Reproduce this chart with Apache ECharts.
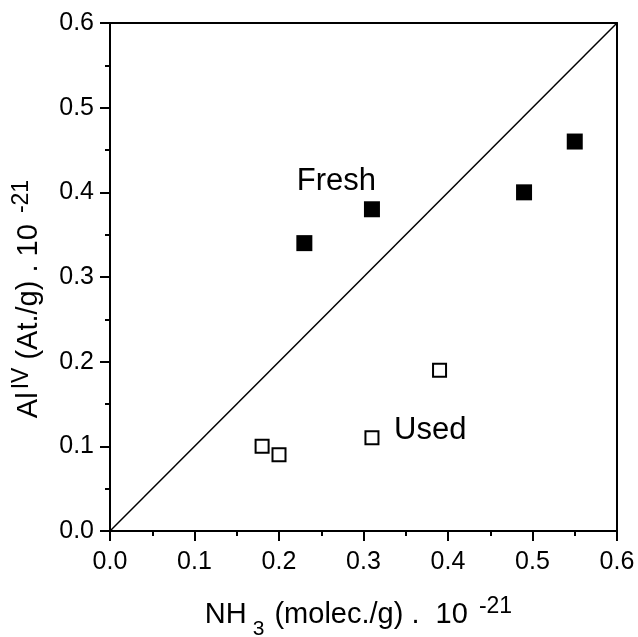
<!DOCTYPE html>
<html>
<head>
<meta charset="utf-8">
<script src="https://cdn.jsdelivr.net/npm/echarts@6/dist/echarts.min.js"></script>
<style>
  html, body { margin: 0; padding: 0; background: #ffffff; }
  #chart { width: 638px; height: 637px; }
</style>
</head>
<body>
<div id="chart"></div>
<script>
// values (NH3 vs Al(IV), both x 10^-21)
var freshX = [0.23, 0.31, 0.49, 0.55]
var freshY = [0.34, 0.38, 0.40, 0.46]
var usedX = [0.18, 0.20, 0.31, 0.39]
var usedY = [0.10, 0.09, 0.11, 0.19]
var diagonalX = [0.0, 0.6]
var diagonalY = [0.0, 0.6]
var noteText = ['Fresh', 'Used']
var noteX = [0.268, 0.379]
var noteY = [0.413, 0.119]

var font = 'Liberation Sans, Arial, sans-serif'

function pairs (xs, ys) {
  var out = []
  for (var i = 0; i < xs.length; i++) {
    out.push([xs[i], ys[i]])
  }
  return out
}

var notes = []
for (var i = 0; i < noteText.length; i++) {
  notes.push({ name: noteText[i], value: [noteX[i], noteY[i]] })
}

var titleRich = {
  m: { fontSize: 29, fontFamily: font, color: '#000' },
  sup: { fontSize: 23, fontFamily: font, color: '#000', padding: [0, 0, 15, 3] },
  sub: { fontSize: 21, fontFamily: font, color: '#000', padding: [30, 2, 0, 6] }
}

var chart = echarts.init(document.getElementById('chart'))
chart.setOption({
  animation: false,
  backgroundColor: '#ffffff',
  grid: { left: 110, top: 23, right: 21, bottom: 106, outerBoundsMode: 'none' },
  xAxis: [{
    type: 'value',
    min: 0,
    max: 0.6,
    interval: 0.1,
    name: '{m|NH}{sub|3}{m| (molec./g) .  10 }{sup|-21}',
    nameLocation: 'middle',
    nameGap: 58,
    nameTextStyle: { rich: titleRich, padding: [0, 10, 0, 0] },
    axisLine: { show: true, onZero: false, lineStyle: { color: '#000', width: 2 } },
    axisTick: { show: true, inside: false, length: 10, lineStyle: { color: '#000', width: 2 } },
    minorTick: { show: true, splitNumber: 2, length: 5, lineStyle: { color: '#000', width: 2 } },
    splitLine: { show: false },
    axisLabel: {
      margin: 19,
      fontSize: 25,
      fontFamily: font,
      color: '#000',
      formatter: function (v) { return v.toFixed(1) }
    }
  }, {
    type: 'value',
    position: 'top',
    min: 0,
    max: 0.6,
    axisLine: { show: true, onZero: false, lineStyle: { color: '#000', width: 2 } },
    axisTick: { show: false },
    axisLabel: { show: false },
    splitLine: { show: false }
  }],
  yAxis: [{
    type: 'value',
    min: 0,
    max: 0.6,
    interval: 0.1,
    name: '{m|Al}{sup|IV}{m| (At./g) . 10 }{sup|-21}',
    nameLocation: 'middle',
    nameRotate: 90,
    nameGap: 62,
    nameTextStyle: { rich: titleRich, padding: [0, 44, 0, 0] },
    axisLine: { show: true, onZero: false, lineStyle: { color: '#000', width: 2 } },
    axisTick: { show: true, inside: false, length: 10, lineStyle: { color: '#000', width: 2 } },
    minorTick: { show: true, splitNumber: 2, length: 5, lineStyle: { color: '#000', width: 2 } },
    splitLine: { show: false },
    axisLabel: {
      margin: 16,
      fontSize: 25,
      fontFamily: font,
      color: '#000',
      formatter: function (v) { return v.toFixed(1) }
    }
  }, {
    type: 'value',
    position: 'right',
    min: 0,
    max: 0.6,
    axisLine: { show: true, onZero: false, lineStyle: { color: '#000', width: 2 } },
    axisTick: { show: false },
    axisLabel: { show: false },
    splitLine: { show: false }
  }],
  series: [{
    name: 'diagonal',
    type: 'line',
    data: pairs(diagonalX, diagonalY),
    showSymbol: false,
    symbol: 'none',
    lineStyle: { color: '#000', width: 1.5 },
    z: 2
  }, {
    name: 'Fresh',
    type: 'scatter',
    data: pairs(freshX, freshY),
    symbol: 'rect',
    symbolSize: 16,
    itemStyle: { color: '#000', opacity: 1 },
    z: 3
  }, {
    name: 'Used',
    type: 'scatter',
    data: pairs(usedX, usedY),
    symbol: 'rect',
    symbolSize: 13,
    itemStyle: { color: '#fff', borderColor: '#000', borderWidth: 2, opacity: 1 },
    z: 3
  }, {
    name: 'notes',
    type: 'scatter',
    data: notes,
    symbolSize: 0,
    silent: true,
    itemStyle: { opacity: 1 },
    label: {
      show: true,
      position: 'inside',
      formatter: '{b}',
      fontSize: 31,
      fontFamily: font,
      color: '#000',
      opacity: 1
    }
  }]
})
</script>
</body>
</html>
